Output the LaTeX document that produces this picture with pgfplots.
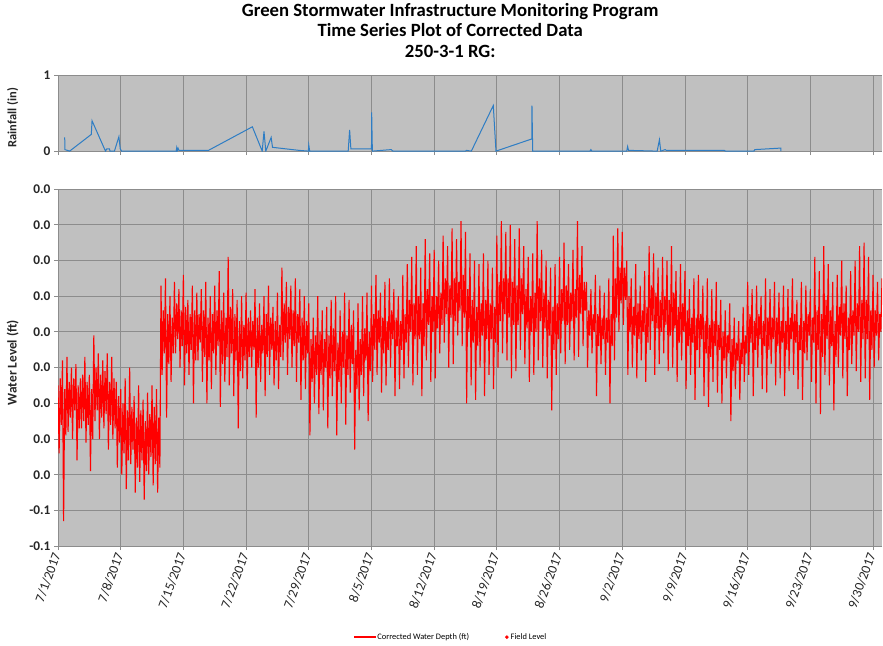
\documentclass[border=0pt]{standalone}
\usepackage{fontspec}
\setmainfont{Carlito}
\usepackage{pgfplots}
\pgfplotsset{compat=1.18}
\definecolor{plotbg}{HTML}{C0C0C0}
\definecolor{gridgray}{HTML}{8C8C8C}
\definecolor{rainblue}{HTML}{2E7DC4}
\definecolor{labelgray}{HTML}{262626}

\pgfplotsset{
  gsi/.style={
    scale only axis, width=824pt, xmin=0, xmax=92,
    axis background/.style={fill=plotbg},
    axis x line*=bottom, axis y line*=left,
    axis line style={gridgray, line width=1pt, -},
    grid=major, grid style={gridgray, line width=0.9pt},
    tick align=outside, major tick length=4pt,
    major tick style={gridgray, line width=0.9pt},
    xtick={0,7,...,91}, scaled y ticks=false,
    yticklabel style={font=\bfseries\fontsize{13.3}{14}\selectfont, text=labelgray},
  }
}

\begin{document}
\begin{tikzpicture}
\path (0,0) rectangle (883pt,-644pt);

% rainfall panel
\begin{axis}[gsi, at={(58pt,-74pt)}, anchor=north west, height=76pt,
  ymin=0, ymax=1, ytick={0,1}, yticklabels={0,1}, xticklabels={},
  ylabel={Rainfall (in)},
  ylabel style={at={(axis description cs:-0.055,0.44)}, anchor=center,
    font=\bfseries\fontsize{12.5}{13}\selectfont, text=labelgray},
  title={Green Stormwater Infrastructure Monitoring Program\\Time Series Plot of Corrected Data\\250-3-1 RG:},
  title style={at={(axis description cs:0.476,1)}, anchor=south, yshift=8pt,
    align=center, font=\bfseries\fontsize{18.7}{20.5}\selectfont},
  ]
\addplot[rainblue, line width=1pt] coordinates {
(0.75,0.18) (0.77,0.02) (1.3,0) (3.72,0.22) (3.8,0.40) (5.3,0) (5.45,0.03) (5.75,0.03)
(5.8,0) (6.3,0) (6.8,0.19) (6.95,0.03) (7.1,0) (13.2,0) (13.25,0.04) (13.3,0) (13.4,0.04)
(13.5,0.01) (16.8,0.01) (21.7,0.32) (22.8,0) (23.0,0.26) (23.2,0) (23.8,0.18) (23.95,0.05)
(26.9,0.01) (27.95,0) (28.0,0.08) (28.1,0) (32.4,0) (32.56,0.28) (32.7,0.03) (35.0,0.03)
(35.02,0.51) (35.1,0) (37.2,0.02) (37.4,0) (45.5,0) (45.6,0.01) (46.15,0) (48.6,0.60)
(48.9,0) (52.9,0.16) (52.92,0.60) (53.0,0) (59.4,0) (59.5,0.02) (59.6,0) (63.5,0)
(63.6,0.06) (63.7,0.01) (66.9,0) (67.15,0.15) (67.3,0) (67.8,0.02) (67.9,0.01) (74.4,0.01)
(74.5,0) (77.7,0) (77.8,0.02) (80.7,0.04) (80.72,0)
};
\end{axis}

% water level panel
\begin{axis}[gsi, at={(58pt,-188pt)}, anchor=north west, height=357pt,
  ymin=-0.06, ymax=0.04,
  ytick={-0.06,-0.05,-0.04,-0.03,-0.02,-0.01,0,0.01,0.02,0.03,0.04},
  yticklabels={-0.1,-0.1,0.0,0.0,0.0,0.0,0.0,0.0,0.0,0.0,0.0},
  xticklabels={7/1/2017,7/8/2017,7/15/2017,7/22/2017,7/29/2017,8/5/2017,8/12/2017,
    8/19/2017,8/26/2017,9/2/2017,9/9/2017,9/16/2017,9/23/2017,9/30/2017},
  xticklabel style={rotate=70, anchor=east, font=\fontsize{13.5}{14}\selectfont, text=labelgray},
  ylabel={Water Level (ft)},
  ylabel style={at={(axis description cs:-0.055,0.514)}, anchor=center,
    font=\bfseries\fontsize{13.3}{14}\selectfont, text=labelgray},
  legend style={at={(axis description cs:0.477,-0.255)}, anchor=center, draw=white, fill=white,
    legend columns=2, font=\fontsize{8.4}{10}\selectfont,
    /tikz/every even column/.append style={column sep=34pt}},
  legend cell align=left,
  ]
\addplot[draw=red, color=red, line width=1.1pt, forget plot] coordinates {
(0,-0.015) (0.125,-0.034) (0.25,-0.013) (0.375,-0.026) (0.5,-0.008) (0.625,-0.053) (0.75,-0.016) (0.875,-0.029)
(1,-0.007) (1.125,-0.028) (1.25,-0.014) (1.375,-0.024) (1.5,-0.010) (1.625,-0.030) (1.75,-0.013) (1.875,-0.022)
(2,-0.009) (2.125,-0.036) (2.25,-0.015) (2.375,-0.027) (2.5,-0.013) (2.625,-0.027) (2.75,-0.012) (2.875,-0.025)
(3,-0.007) (3.125,-0.031) (3.25,-0.014) (3.375,-0.026) (3.5,-0.012) (3.625,-0.039) (3.75,-0.016) (3.875,-0.030)
(4,-0.001) (4.125,-0.025) (4.25,-0.010) (4.375,-0.022) (4.5,-0.006) (4.625,-0.030) (4.75,-0.012) (4.875,-0.024)
(5,-0.008) (5.125,-0.027) (5.25,-0.011) (5.375,-0.023) (5.5,-0.006) (5.625,-0.033) (5.75,-0.014) (5.875,-0.026)
(6,-0.007) (6.125,-0.030) (6.25,-0.013) (6.375,-0.027) (6.5,-0.014) (6.625,-0.038) (6.75,-0.018) (6.875,-0.031)
(7,-0.016) (7.125,-0.040) (7.25,-0.020) (7.375,-0.034) (7.5,-0.013) (7.625,-0.044) (7.75,-0.022) (7.875,-0.036)
(8,-0.010) (8.125,-0.037) (8.25,-0.021) (8.375,-0.033) (8.5,-0.018) (8.625,-0.045) (8.75,-0.024) (8.875,-0.038)
(9,-0.015) (9.125,-0.042) (9.25,-0.022) (9.375,-0.036) (9.5,-0.019) (9.625,-0.047) (9.75,-0.025) (9.875,-0.039)
(10,-0.017) (10.125,-0.040) (10.25,-0.023) (10.375,-0.035) (10.5,-0.015) (10.625,-0.043) (10.75,-0.021) (10.875,-0.037)
(11,-0.016) (11.125,-0.045) (11.25,-0.024) (11.375,-0.038) (11.5,0.013) (11.625,-0.012) (11.75,0.006) (11.875,-0.006)
(12,0.015) (12.125,-0.024) (12.25,0.005) (12.375,-0.009) (12.5,0.010) (12.625,-0.014) (12.75,0.004) (12.875,-0.006)
(13,0.014) (13.125,-0.006) (13.25,0.008) (13.375,-0.002) (13.5,0.012) (13.625,-0.010) (13.75,0.006) (13.875,-0.004)
(14,0.016) (14.125,-0.015) (14.25,0.007) (14.375,-0.006) (14.5,0.009) (14.625,-0.012) (14.75,0.005) (14.875,-0.005)
(15,0.013) (15.125,-0.020) (15.25,0.006) (15.375,-0.008) (15.5,0.011) (15.625,-0.008) (15.75,0.005) (15.875,-0.003)
(16,0.012) (16.125,-0.014) (16.25,0.006) (16.375,-0.007) (16.5,0.014) (16.625,-0.020) (16.75,0.004) (16.875,-0.008)
(17,0.010) (17.125,-0.016) (17.25,0.005) (17.375,-0.006) (17.5,0.013) (17.625,-0.012) (17.75,0.006) (17.875,-0.004)
(18,0.017) (18.125,-0.021) (18.25,0.006) (18.375,-0.009) (18.5,0.011) (18.625,-0.014) (18.75,0.004) (18.875,-0.007)
(19,0.021) (19.125,-0.015) (19.25,0.007) (19.375,-0.006) (19.5,0.012) (19.625,-0.018) (19.75,0.005) (19.875,-0.008)
(20,0.009) (20.125,-0.027) (20.25,0.003) (20.375,-0.011) (20.5,0.010) (20.625,-0.013) (20.75,0.002) (20.875,-0.008)
(21,0.011) (21.125,-0.016) (21.25,0.004) (21.375,-0.007) (21.5,0.006) (21.625,-0.010) (21.75,0.003) (21.875,-0.005)
(22,0.012) (22.125,-0.024) (22.25,0.004) (22.375,-0.010) (22.5,0.008) (22.625,-0.014) (22.75,0.002) (22.875,-0.006)
(23,0.010) (23.125,-0.018) (23.25,0.005) (23.375,-0.007) (23.5,0.013) (23.625,-0.012) (23.75,0.004) (23.875,-0.005)
(24,0.007) (24.125,-0.015) (24.25,0.003) (24.375,-0.008) (24.5,0.011) (24.625,-0.016) (24.75,0.002) (24.875,-0.007)
(25,0.018) (25.125,-0.008) (25.25,0.008) (25.375,-0.003) (25.5,0.014) (25.625,-0.012) (25.75,0.007) (25.875,-0.002)
(26,0.013) (26.125,-0.010) (26.25,0.006) (26.375,-0.004) (26.5,0.015) (26.625,-0.014) (26.75,0.005) (26.875,-0.003)
(27,0.012) (27.125,-0.019) (27.25,0.004) (27.375,-0.008) (27.5,0.010) (27.625,-0.016) (27.75,0.003) (27.875,-0.006)
(28,0.008) (28.125,-0.029) (28.25,-0.002) (28.375,-0.014) (28.5,0.004) (28.625,-0.020) (28.75,-0.001) (28.875,-0.012)
(29,0.010) (29.125,-0.023) (29.25,0.000) (29.375,-0.012) (29.5,0.006) (29.625,-0.022) (29.75,-0.002) (29.875,-0.010)
(30,0.007) (30.125,-0.027) (30.25,-0.001) (30.375,-0.013) (30.5,0.009) (30.625,-0.018) (30.75,0.001) (30.875,-0.011)
(31,0.010) (31.125,-0.029) (31.25,-0.003) (31.375,-0.014) (31.5,0.006) (31.625,-0.020) (31.75,0.000) (31.875,-0.010)
(32,0.011) (32.125,-0.026) (32.25,-0.001) (32.375,-0.012) (32.5,0.009) (32.625,-0.017) (32.75,0.002) (32.875,-0.009)
(33,0.006) (33.125,-0.033) (33.25,-0.005) (33.375,-0.016) (33.5,0.008) (33.625,-0.022) (33.75,-0.002) (33.875,-0.012)
(34,0.010) (34.125,-0.018) (34.25,0.001) (34.375,-0.008) (34.5,0.011) (34.625,-0.025) (34.75,0.000) (34.875,-0.011)
(35,0.013) (35.125,-0.014) (35.25,0.005) (35.375,-0.005) (35.5,0.016) (35.625,-0.012) (35.75,0.006) (35.875,-0.003)
(36,0.011) (36.125,-0.017) (36.25,0.004) (36.375,-0.006) (36.5,0.014) (36.625,-0.015) (36.75,0.003) (36.875,-0.005)
(37,0.015) (37.125,-0.010) (37.25,0.006) (37.375,-0.002) (37.5,0.012) (37.625,-0.018) (37.75,0.004) (37.875,-0.004)
(38,0.010) (38.125,-0.016) (38.25,0.003) (38.375,-0.005) (38.5,0.016) (38.625,-0.013) (38.75,0.005) (38.875,-0.003)
(39,0.019) (39.125,-0.010) (39.25,0.009) (39.375,0.000) (39.5,0.021) (39.625,-0.015) (39.75,0.008) (39.875,-0.002)
(40,0.024) (40.125,-0.012) (40.25,0.010) (40.375,-0.002) (40.5,0.018) (40.625,-0.018) (40.75,0.008) (40.875,-0.004)
(41,0.026) (41.125,-0.008) (41.25,0.012) (41.375,0.002) (41.5,0.022) (41.625,-0.014) (41.75,0.010) (41.875,0.000)
(42,0.023) (42.125,-0.013) (42.25,0.010) (42.375,0.001) (42.5,0.020) (42.625,-0.006) (42.75,0.011) (42.875,0.002)
(43,0.027) (43.125,-0.003) (43.25,0.015) (43.375,0.005) (43.5,0.024) (43.625,-0.010) (43.75,0.013) (43.875,0.004)
(44,0.029) (44.125,-0.009) (44.25,0.015) (44.375,0.003) (44.5,0.026) (44.625,-0.001) (44.75,0.014) (44.875,0.006)
(45,0.031) (45.125,-0.004) (45.25,0.016) (45.375,0.004) (45.5,0.028) (45.625,-0.020) (45.75,0.012) (45.875,0.000)
(46,0.022) (46.125,-0.015) (46.25,0.009) (46.375,-0.003) (46.5,0.020) (46.625,-0.019) (46.75,0.007) (46.875,-0.004)
(47,0.019) (47.125,-0.010) (47.25,0.008) (47.375,-0.001) (47.5,0.022) (47.625,-0.018) (47.75,0.009) (47.875,-0.002)
(48,0.020) (48.125,-0.012) (48.25,0.008) (48.375,-0.002) (48.5,0.018) (48.625,-0.016) (48.75,0.007) (48.875,-0.003)
(49,0.027) (49.125,-0.010) (49.25,0.014) (49.375,0.003) (49.5,0.031) (49.625,-0.006) (49.75,0.015) (49.875,0.005)
(50,0.028) (50.125,-0.008) (50.25,0.015) (50.375,0.004) (50.5,0.030) (50.625,-0.013) (50.75,0.014) (50.875,0.002)
(51,0.026) (51.125,-0.011) (51.25,0.013) (51.375,0.002) (51.5,0.029) (51.625,-0.005) (51.75,0.015) (51.875,0.005)
(52,0.024) (52.125,-0.009) (52.25,0.012) (52.375,0.001) (52.5,0.021) (52.625,-0.014) (52.75,0.010) (52.875,0.000)
(53,0.022) (53.125,-0.012) (53.25,0.011) (53.375,0.000) (53.5,0.031) (53.625,-0.008) (53.75,0.015) (53.875,0.003)
(54,0.023) (54.125,-0.010) (54.25,0.011) (54.375,0.001) (54.5,0.020) (54.625,-0.013) (54.75,0.009) (54.875,-0.001)
(55,0.018) (55.125,-0.022) (55.25,0.007) (55.375,-0.005) (55.5,0.019) (55.625,-0.012) (55.75,0.008) (55.875,-0.002)
(56,0.021) (56.125,-0.006) (56.25,0.012) (56.375,0.003) (56.5,0.025) (56.625,-0.009) (56.75,0.013) (56.875,0.002)
(57,0.019) (57.125,-0.005) (57.25,0.011) (57.375,0.003) (57.5,0.023) (57.625,-0.008) (57.75,0.012) (57.875,0.004)
(58,0.031) (58.125,-0.007) (58.25,0.016) (58.375,0.005) (58.5,0.024) (58.625,-0.004) (58.75,0.014) (58.875,0.006)
(59,0.014) (59.125,-0.010) (59.25,0.006) (59.375,-0.001) (59.5,0.012) (59.625,-0.006) (59.75,0.005) (59.875,0.000)
(60,0.016) (60.125,-0.018) (60.25,0.005) (60.375,-0.004) (60.5,0.013) (60.625,-0.009) (60.75,0.004) (60.875,-0.002)
(61,0.011) (61.125,-0.012) (61.25,0.004) (61.375,-0.003) (61.5,0.015) (61.625,-0.020) (61.75,0.005) (61.875,-0.004)
(62,0.027) (62.125,-0.008) (62.25,0.015) (62.375,0.004) (62.5,0.029) (62.625,0.000) (62.75,0.018) (62.875,0.008)
(63,0.028) (63.125,0.002) (63.25,0.018) (63.375,0.009) (63.5,0.020) (63.625,-0.012) (63.75,0.010) (63.875,0.000)
(64,0.015) (64.125,-0.010) (64.25,0.007) (64.375,-0.001) (64.5,0.019) (64.625,-0.013) (64.75,0.008) (64.875,-0.002)
(65,0.013) (65.125,-0.008) (65.25,0.006) (65.375,0.000) (65.5,0.017) (65.625,-0.014) (65.75,0.007) (65.875,-0.003)
(66,0.024) (66.125,-0.005) (66.25,0.013) (66.375,0.003) (66.5,0.022) (66.625,-0.012) (66.75,0.011) (66.875,0.001)
(67,0.018) (67.125,-0.009) (67.25,0.009) (67.375,0.000) (67.5,0.021) (67.625,-0.006) (67.75,0.010) (67.875,0.002)
(68,0.020) (68.125,-0.011) (68.25,0.009) (68.375,-0.001) (68.5,0.024) (68.625,-0.010) (68.75,0.011) (68.875,0.001)
(69,0.017) (69.125,-0.014) (69.25,0.007) (69.375,-0.003) (69.5,0.019) (69.625,-0.008) (69.75,0.008) (69.875,0.000)
(70,0.017) (70.125,-0.016) (70.25,0.006) (70.375,-0.004) (70.5,0.012) (70.625,-0.012) (70.75,0.004) (70.875,-0.003)
(71,0.015) (71.125,-0.019) (71.25,0.004) (71.375,-0.005) (71.5,0.016) (71.625,-0.010) (71.75,0.005) (71.875,-0.002)
(72,0.013) (72.125,-0.018) (72.25,0.003) (72.375,-0.006) (72.5,0.015) (72.625,-0.021) (72.75,0.002) (72.875,-0.007)
(73,0.012) (73.125,-0.014) (73.25,0.003) (73.375,-0.004) (73.5,0.014) (73.625,-0.017) (73.75,0.002) (73.875,-0.005)
(74,0.009) (74.125,-0.020) (74.25,0.000) (74.375,-0.008) (74.5,0.006) (74.625,-0.013) (74.75,-0.001) (74.875,-0.006)
(75,0.008) (75.125,-0.025) (75.25,-0.002) (75.375,-0.011) (75.5,0.004) (75.625,-0.016) (75.75,-0.003) (75.875,-0.008)
(76,0.003) (76.125,-0.019) (76.25,-0.003) (76.375,-0.009) (76.5,0.007) (76.625,-0.014) (76.75,-0.001) (76.875,-0.006)
(77,0.014) (77.125,-0.012) (77.25,0.005) (77.375,-0.003) (77.5,0.012) (77.625,-0.018) (77.75,0.003) (77.875,-0.005)
(78,0.013) (78.125,-0.010) (78.25,0.005) (78.375,-0.002) (78.5,0.010) (78.625,-0.016) (78.75,0.003) (78.875,-0.004)
(79,0.015) (79.125,-0.017) (79.25,0.004) (79.375,-0.005) (79.5,0.012) (79.625,-0.009) (79.75,0.004) (79.875,-0.002)
(80,0.014) (80.125,-0.015) (80.25,0.004) (80.375,-0.004) (80.5,0.011) (80.625,-0.013) (80.75,0.003) (80.875,-0.003)
(81,0.013) (81.125,-0.018) (81.25,0.003) (81.375,-0.005) (81.5,0.012) (81.625,-0.011) (81.75,0.004) (81.875,-0.002)
(82,0.015) (82.125,-0.012) (82.25,0.005) (82.375,-0.003) (82.5,0.009) (82.625,-0.016) (82.75,0.002) (82.875,-0.005)
(83,0.014) (83.125,-0.019) (83.25,0.003) (83.375,-0.006) (83.5,0.013) (83.625,-0.008) (83.75,0.005) (83.875,-0.001)
(84,0.012) (84.125,-0.014) (84.25,0.004) (84.375,-0.003) (84.5,0.021) (84.625,-0.020) (84.75,0.006) (84.875,-0.005)
(85,0.017) (85.125,-0.023) (85.25,0.005) (85.375,-0.007) (85.5,0.024) (85.625,-0.012) (85.75,0.009) (85.875,-0.002)
(86,0.019) (86.125,-0.015) (86.25,0.006) (86.375,-0.004) (86.5,0.014) (86.625,-0.022) (86.75,0.003) (86.875,-0.007)
(87,0.016) (87.125,-0.010) (87.25,0.007) (87.375,-0.001) (87.5,0.020) (87.625,-0.013) (87.75,0.008) (87.875,-0.002)
(88,0.013) (88.125,-0.018) (88.25,0.004) (88.375,-0.005) (88.5,0.017) (88.625,-0.009) (88.75,0.006) (88.875,-0.001)
(89,0.020) (89.125,-0.011) (89.25,0.008) (89.375,0.000) (89.5,0.024) (89.625,-0.014) (89.75,0.009) (89.875,-0.002)
(90,0.025) (90.125,-0.013) (90.25,0.009) (90.375,-0.002) (90.5,0.021) (90.625,-0.019) (90.75,0.006) (90.875,-0.005)
(91,0.016) (91.125,-0.010) (91.25,0.006) (91.375,-0.001) (91.5,0.014) (91.625,-0.008) (91.75,0.005) (91.875,0.000)
(92,0.015)
};
\addlegendimage{legend image code/.code={\fill[red] (0cm,-0.5pt) rectangle (0.75cm,0.5pt);}}
\addlegendentry{Corrected Water Depth (ft)}
\addlegendimage{legend image code/.code={\fill[red] (0.3cm,0cm) circle (1.6pt);}}
\addlegendentry{Field Level}
\end{axis}
\end{tikzpicture}
\end{document}
